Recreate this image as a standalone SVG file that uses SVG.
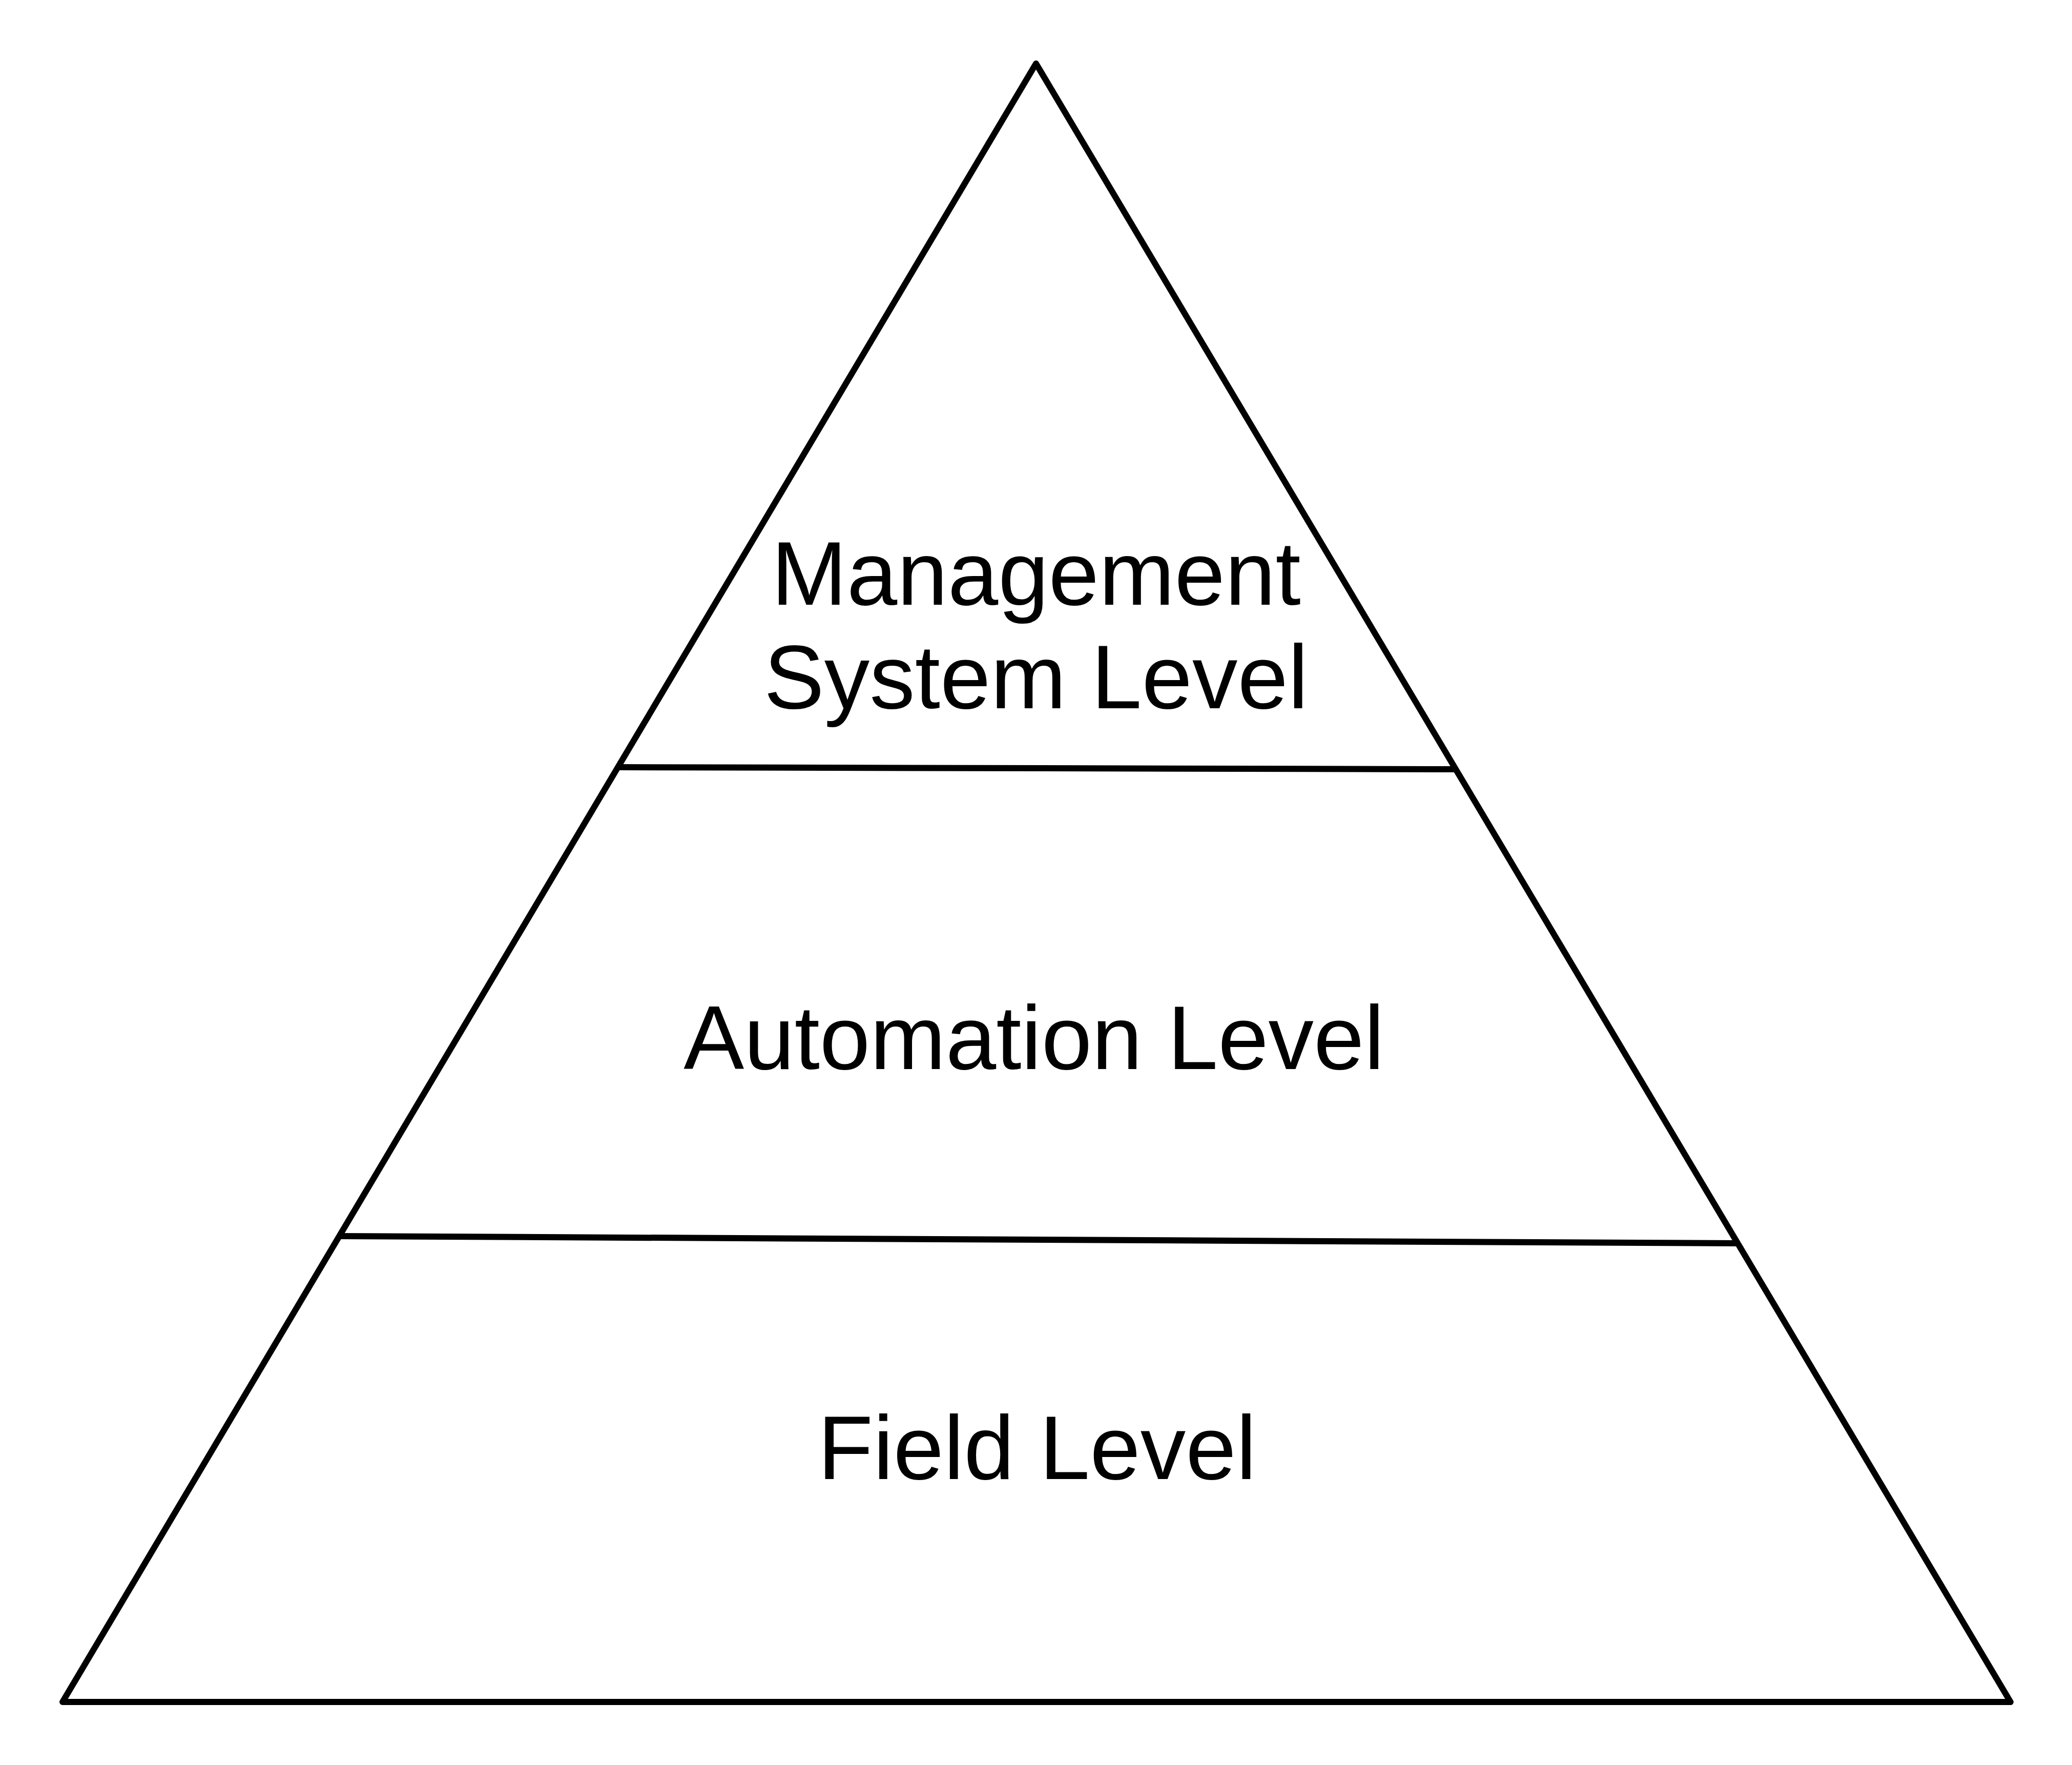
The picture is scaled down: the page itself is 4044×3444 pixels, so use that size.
<svg xmlns="http://www.w3.org/2000/svg" width="4044" height="3444" viewBox="0 0 4044 3444">
<style>
.ln{fill:none;stroke:#000;stroke-width:12;stroke-linejoin:round;stroke-linecap:round}
.lbl{font-family:"Liberation Sans",Arial,Helvetica,sans-serif;font-size:177px;fill:#000;text-anchor:middle}
</style>
<rect width="4044" height="3444" fill="#fff"/>
<g id="connectors">
<polygon id="pyramid" class="ln" points="2022,124 3924,3321 122,3321"/>
<line id="divider1" class="ln" x1="1207" y1="1497" x2="2842" y2="1501" style="stroke-linecap:butt"/>
<line id="divider2" class="ln" x1="663" y1="2412" x2="3390" y2="2426" style="stroke-linecap:butt"/>
</g>
<g id="management">
<text class="lbl" x="2022" y="1180">Management</text>
<text class="lbl" x="2022" y="1382">System Level</text>
</g>
<g id="automation">
<text class="lbl" x="2018" y="2086">Automation Level</text>
</g>
<g id="field">
<text class="lbl" x="2024" y="2886">Field Level</text>
</g>
</svg>
